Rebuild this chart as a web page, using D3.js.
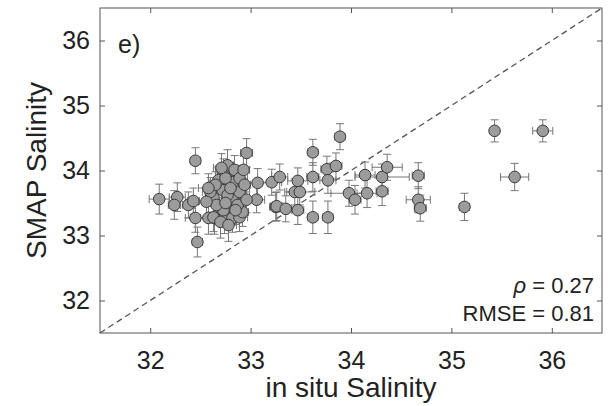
<!DOCTYPE html>
<html><head><meta charset="utf-8">
<script src="https://cdn.jsdelivr.net/npm/d3@7"></script>
<style>
body{margin:0;background:#fff}
text{font-family:"Liberation Sans",Arial,Helvetica,sans-serif;fill:#222}
</style>
</head><body>
<svg id="c" width="616" height="406"></svg>
<script>
// in situ salinity (x) and SMAP salinity (y), with their error half-widths
const inSitu = [32.09,32.27,32.24,32.38,32.43,32.45,32.45,32.47,32.58,32.64,32.74,32.82,32.89,32.96,33.07,33.06,33.21,33.25,33.29,33.47,
  33.44,33.49,33.26,33.35,33.47,33.62,33.77,33.62,33.89,33.62,33.76,33.85,33.77,33.98,34.04,34.14,34.16,34.31,34.36,34.31,
  34.67,34.67,34.69,35.13,35.43,35.91,35.63,
  32.63,32.63,32.73,32.72,32.73,32.82,32.82,32.89,32.92,32.60,32.77,32.84,32.68,32.75,32.89,32.94,32.66,32.77,32.87,32.96,
  32.70,32.78,32.85,32.71,32.93,32.56,32.65,32.80,32.75,32.58];
const smap = [33.56,33.59,33.47,33.47,33.53,34.15,33.27,32.90,33.27,33.27,33.28,33.27,33.28,34.27,33.81,33.55,33.82,33.44,33.90,33.84,
  33.67,33.67,33.45,33.41,33.39,33.28,33.28,34.28,34.52,33.90,34.02,34.07,33.85,33.65,33.55,33.93,33.65,33.90,34.05,33.68,
  33.92,33.55,33.42,33.44,34.61,34.61,33.90,
  33.58,33.28,33.96,33.70,33.39,33.82,33.55,33.67,33.36,33.67,34.08,34.01,33.85,33.88,33.88,33.78,33.47,33.62,33.47,33.55,
  33.21,33.16,33.39,34.04,34.01,33.52,33.78,33.73,33.50,33.73];
const inSituErr = [0.10,0.08,0.06,0.06,0.06,0.05,0.10,0.05,0.08,0.06,0.08,0.06,0.08,0.06,0.10,0.08,0.10,0.06,0.08,0.10,
  0.08,0.15,0.06,0.06,0.06,0.05,0.05,0.05,0.05,0.06,0.06,0.06,0.08,0.18,0.06,0.10,0.10,0.27,0.15,0.06,
  0.06,0.12,0.06,0.05,0.04,0.10,0.14,
  0.08,0.06,0.08,0.10,0.06,0.08,0.06,0.10,0.06,0.08,0.06,0.08,0.10,0.06,0.08,0.06,0.08,0.06,0.08,0.06,
  0.06,0.08,0.06,0.08,0.06,0.08,0.06,0.08,0.06,0.10];
const smapErr = [0.23,0.22,0.22,0.20,0.20,0.20,0.22,0.23,0.25,0.25,0.25,0.22,0.22,0.22,0.22,0.20,0.20,0.22,0.20,0.20,
  0.20,0.20,0.22,0.20,0.22,0.25,0.25,0.20,0.20,0.22,0.20,0.20,0.20,0.20,0.22,0.20,0.22,0.20,0.20,0.22,
  0.20,0.20,0.20,0.21,0.17,0.17,0.21,
  0.22,0.22,0.22,0.22,0.24,0.22,0.22,0.20,0.22,0.22,0.24,0.22,0.22,0.22,0.20,0.22,0.22,0.22,0.22,0.20,
  0.25,0.25,0.22,0.22,0.22,0.22,0.20,0.22,0.22,0.22];
const xTicks = [32,33,34,35,36];
const yTicks = [32,33,34,35,36];
const axisDomain = [31.5,36.5];
const xTitle = "in situ Salinity";
const yTitle = "SMAP Salinity";
const panelLabel = "e)";
const rhoValue = "0.27";
const rmseValue = "0.81";

const points = inSitu.map((v,i)=>({x:v,y:smap[i],ex:inSituErr[i],ey:smapErr[i]}));

const svg = d3.select("#c");
const L=100,R=602,T=8,B=333;
const x = d3.scaleLinear().domain(axisDomain).range([L,R]);
const y = d3.scaleLinear().domain(axisDomain).range([B,T]);
const axisColor="#555";

// diagonal 1:1 line
svg.append("line")
  .attr("x1",x(axisDomain[0])).attr("y1",y(axisDomain[0]))
  .attr("x2",x(axisDomain[1])).attr("y2",y(axisDomain[1]))
  .attr("stroke","#555").attr("stroke-width",1.3).attr("stroke-dasharray","6,4");

// error bars
const eb = svg.append("g").attr("stroke","#777").attr("stroke-width",1).attr("fill","none");
const cap=4;
points.forEach(p=>{
  const cx=x(p.x), cy=y(p.y);
  const y0=y(p.y-p.ey), y1=y(p.y+p.ey);
  const x0=x(p.x-p.ex), x1=x(p.x+p.ex);
  eb.append("path").attr("d",
    `M${cx},${y0}V${y1}M${cx-cap},${y0}H${cx+cap}M${cx-cap},${y1}H${cx+cap}`+
    `M${x0},${cy}H${x1}M${x0},${cy-cap}V${cy+cap}M${x1},${cy-cap}V${cy+cap}`);
});

// markers
svg.append("g").selectAll("circle").data(points).join("circle")
  .attr("cx",d=>x(d.x)).attr("cy",d=>y(d.y)).attr("r",5.8)
  .attr("fill","#9c9c9c").attr("stroke","#3a3a3a").attr("stroke-width",1);

// axes
const fs=25;
const gB = svg.append("g").attr("transform",`translate(0,${B})`)
  .call(d3.axisBottom(x).tickValues(xTicks).tickSizeInner(-5).tickSizeOuter(0).tickPadding(18).tickFormat(d3.format("d")));
const gT = svg.append("g").attr("transform",`translate(0,${T})`)
  .call(d3.axisTop(x).tickValues(xTicks).tickSizeInner(-5).tickSizeOuter(0).tickFormat(""));
const gLft = svg.append("g").attr("transform",`translate(${L},0)`)
  .call(d3.axisLeft(y).tickValues(yTicks).tickSizeInner(-5).tickSizeOuter(0).tickPadding(10).tickFormat(d3.format("d")));
const gRt = svg.append("g").attr("transform",`translate(${R},0)`)
  .call(d3.axisRight(y).tickValues(yTicks).tickSizeInner(-5).tickSizeOuter(0).tickFormat(""));
[gB,gT,gLft,gRt].forEach(g=>{
  g.select(".domain").remove();
  g.selectAll("line").attr("stroke",axisColor);
  g.selectAll("text").attr("font-size",fs).attr("font-family",null).style("fill","#222");
});
svg.append("rect").attr("x",L).attr("y",T).attr("width",R-L).attr("height",B-T)
  .attr("fill","none").attr("stroke",axisColor).attr("stroke-width",1);

// titles
svg.append("text").attr("x",(L+R)/2).attr("y",397).attr("text-anchor","middle")
  .attr("font-size",28).text(xTitle);
svg.append("text").attr("transform",`translate(46,${(T+B)/2}) rotate(-90)`).attr("text-anchor","middle")
  .attr("font-size",28).text(yTitle);

// panel label
svg.append("text").attr("x",118).attr("y",53).attr("font-size",25).text(panelLabel);

// stats
const st = svg.append("text").attr("x",594).attr("y",293).attr("text-anchor","end").attr("font-size",22);
st.append("tspan").attr("font-style","italic").text("ρ");
st.append("tspan").text(" = "+rhoValue);
svg.append("text").attr("x",594).attr("y",321).attr("text-anchor","end").attr("font-size",22).text("RMSE = "+rmseValue);
</script>
</body></html>
